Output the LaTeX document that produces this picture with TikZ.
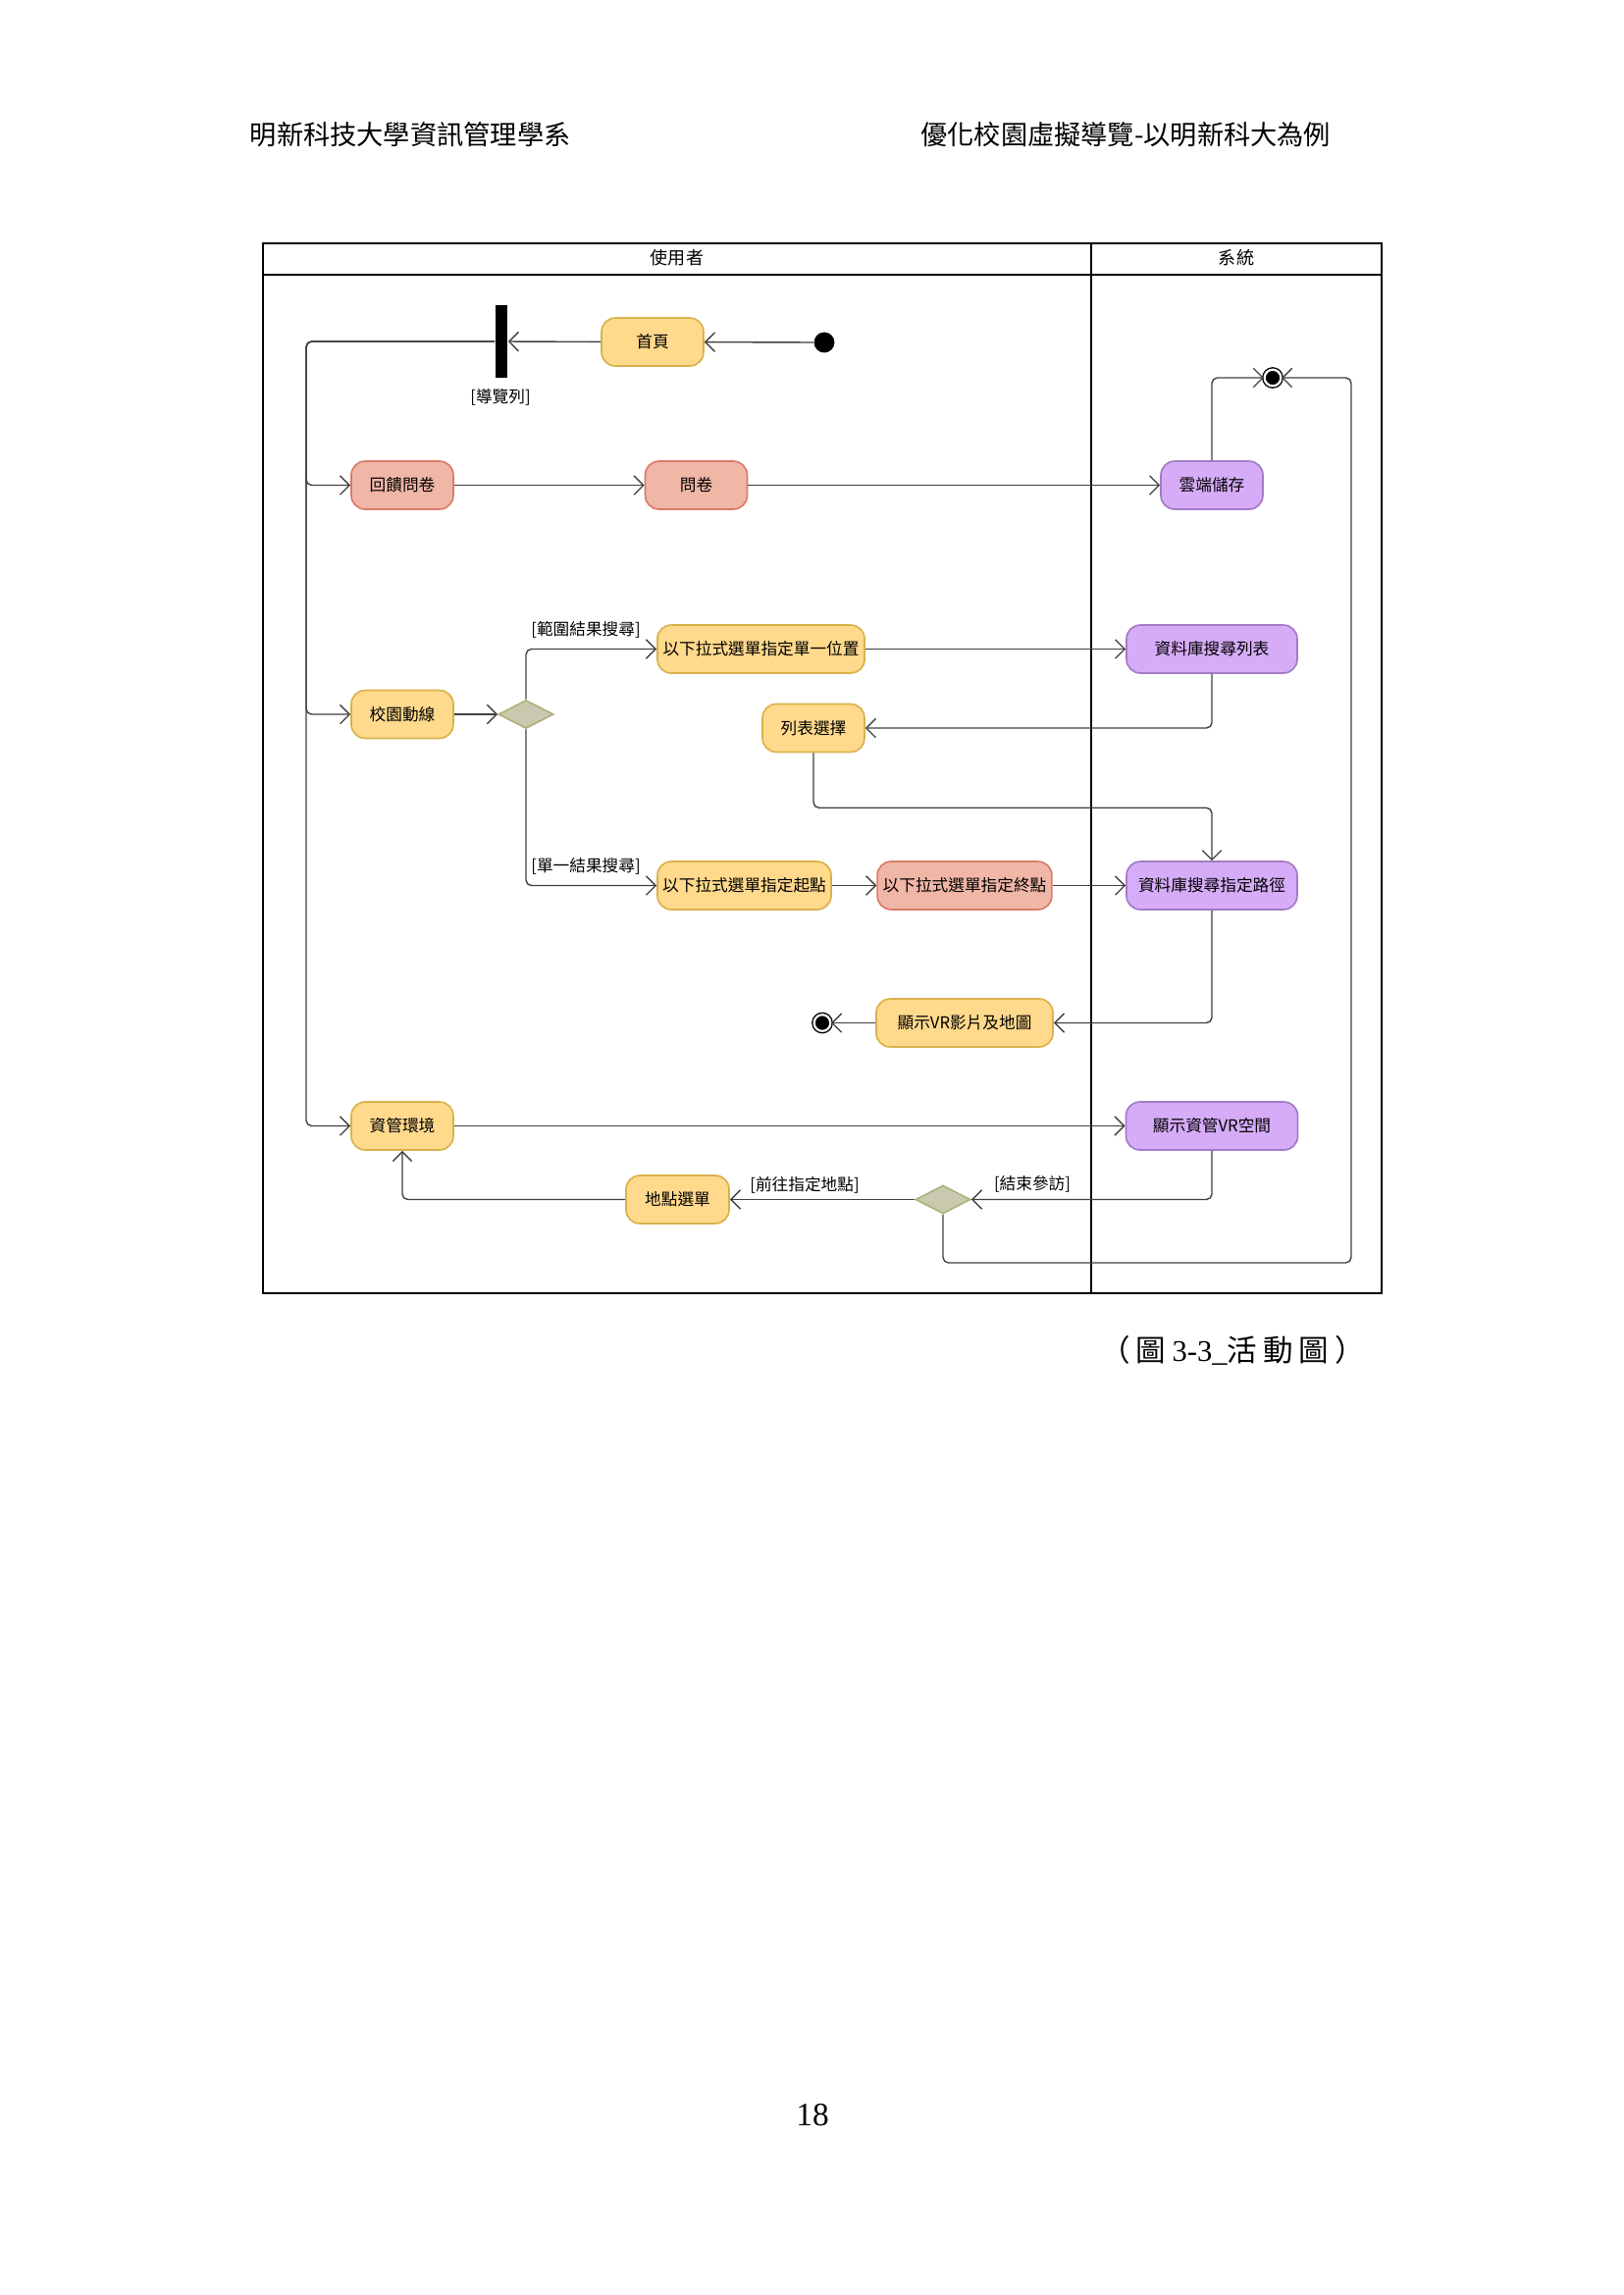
\documentclass[tikz,border=0pt]{standalone}
\usepackage{fontspec}
\setmainfont{Liberation Serif}
\newfontfamily\cjk{Noto Sans CJK TC}
\usetikzlibrary{arrows.meta,shapes.geometric}
\definecolor{user fill}{HTML}{FFD98C}
\definecolor{user edge}{HTML}{D9B24A}
\definecolor{red fill}{HTML}{F0B6A6}
\definecolor{red edge}{HTML}{DB7B68}
\definecolor{sys fill}{HTML}{D6ABF7}
\definecolor{sys edge}{HTML}{A27CC4}
\definecolor{choice fill}{HTML}{C9C9AF}
\definecolor{choice edge}{HTML}{B0B07E}
\colorlet{flow line}{black!75}
\newcommand\gap{\hspace{2.2pt}}
\tikzset{act/.style={draw, rounded corners=5pt, line width=0.6pt, minimum width=37.4pt,
        minimum height=17.6pt, inner sep=1pt, font=\cjk\fontsize{6}{7}\selectfont},
    useract/.style={act, fill=user fill, draw=user edge},
    redact/.style={act, fill=red fill, draw=red edge},
    sysact/.style={act, fill=sys fill, draw=sys edge},
    choice/.style={diamond, fill=choice fill, draw=choice edge, line width=0.6pt,
        minimum width=20.2pt, minimum height=10.4pt, inner sep=0pt},
    forkbar/.style={fill=black, minimum width=4.5pt, minimum height=26.6pt, inner sep=0pt},
    startdot/.style={circle, fill=black, minimum size=7.5pt, inner sep=0pt},
    enddot/.style={circle, fill=black, draw=black, double=white, double distance=0.8pt,
        line width=0.5pt, minimum size=6pt, inner sep=0pt},
    guard/.style={inner sep=0pt, font=\cjk\fontsize{6}{7}\selectfont},
    flow/.style={draw=flow line, line width=0.5pt, rounded corners=2pt,
        -{Straight Barb[length=3.5pt,width=7pt]}},
    lane/.style={draw=black, line width=0.8pt}}

\begin{document}
\begin{tikzpicture}[x=0.36pt,y=-0.36pt]
    \useasboundingbox (0,0) rectangle (1654,2339);
    % page header, caption and page number
    \node[anchor=west, font=\cjk\fontsize{9.8}{11}\selectfont] (lefthead) at (245,137)
      {明新科技大學資訊管理學系};
    \node[anchor=east, font=\cjk\fontsize{9.8}{11}\selectfont] (righthead) at (1366,137)
      {優化校園虛擬導覽-以明新科大為例};
    \node[anchor=east, font=\fontsize{11}{13}\selectfont] (caption) at (1401,1376)
      {{\cjk （\gap 圖}\gap 3-3\_{\cjk 活\gap 動\gap 圖\gap ）}};
    \node[font=\fontsize{12}{14}\selectfont] (pagenum) at (828,2156) {18};

    % swimlanes
    \draw[lane] (268,248) rectangle (1408,1318);
    \draw[lane] (268,280) -- (1408,280);
    \draw[lane] (1112,248) -- (1112,1318);
    \node[guard, font=\cjk\fontsize{6.5}{7}\selectfont] (userlane) at (690,263) {使用者};
    \node[guard, font=\cjk\fontsize{6.5}{7}\selectfont] (syslane) at (1260,263) {系統};

    % nodes
    \node[startdot] (start) at (840,349) {};
    \node[useract] (home) at (665,348.5) {首頁};
    \node[forkbar] (bar) at (511,348) {};
    \node[guard] (navlabel) at (510,405) {[導覽列]};
    \coordinate (trunk) at (312,348);

    \node[redact] (feedback) at (410,494.5) {回饋問卷};
    \node[redact] (survey) at (709.5,494.5) {問卷};
    \node[sysact] (cloud) at (1235,494.5) {雲端儲存};
    \node[enddot] (endtop) at (1297,385) {};

    \node[useract] (route) at (410,728) {校園動線};
    \node[choice] (routechoice) at (536,728) {};
    \node[useract, minimum width=76pt] (single) at (775.5,661.5) {以下拉式選單指定單一位置};
    \node[sysact, minimum width=62.6pt] (dblist) at (1235,661.5) {資料庫搜尋列表};
    \node[useract] (listpick) at (829,742) {列表選擇};
    \node[useract, minimum width=63.7pt] (origin) at (758.5,902.5) {以下拉式選單指定起點};
    \node[redact, minimum width=64pt] (dest) at (983,902.5) {以下拉式選單指定終點};
    \node[sysact, minimum width=62.6pt] (dbpath) at (1235,902.5) {資料庫搜尋指定路徑};
    \node[useract, minimum width=64.8pt] (showvr) at (983,1042.5) {顯示VR影片及地圖};
    \node[enddot] (endleft) at (838,1042.5) {};
    \node[guard] (rangelabel) at (597,642) {[範圍結果搜尋]};
    \node[guard] (singlelabel) at (597,883) {[單一結果搜尋]};

    \node[useract] (mis) at (410,1147.5) {資管環境};
    \node[sysact, minimum width=63pt] (misvr) at (1235,1147.5) {顯示資管VR空間};
    \node[choice] (leavechoice) at (961,1222.5) {};
    \node[useract, minimum width=37.8pt] (placemenu) at (690.5,1222.5) {地點選單};
    \node[guard] (leavelabel) at (1052,1207) {[結束參訪]};
    \node[guard] (golabel) at (820,1208) {[前往指定地點]};
    \coordinate (loopcorner) at (1377,1287);

    % connectors
    \draw[flow] (start) -- (home);
    \draw[flow] (home) -- (bar);
    \draw[flow] (bar.west) -- (trunk) |- (feedback.west);
    \draw[flow] (bar.west) -- (trunk) |- (route.west);
    \draw[flow] (bar.west) -- (trunk) |- (mis.west);
    \draw[flow] (feedback) -- (survey);
    \draw[flow] (survey) -- (cloud);
    \draw[flow] (cloud.north) |- (endtop.west);
    \draw[flow] (route) -- (routechoice);
    \draw[flow] (routechoice.north) |- (single.west);
    \draw[flow] (routechoice.south) |- (origin.west);
    \draw[flow] (single) -- (dblist);
    \draw[flow] (dblist.south) |- (listpick.east);
    \draw[flow] (listpick.south) -- ++(0,56) -| (dbpath.north);
    \draw[flow] (origin) -- (dest);
    \draw[flow] (dest) -- (dbpath);
    \draw[flow] (dbpath.south) |- (showvr.east);
    \draw[flow] (showvr) -- (endleft);
    \draw[flow] (mis) -- (misvr);
    \draw[flow] (misvr.south) |- (leavechoice.east);
    \draw[flow] (leavechoice) -- (placemenu);
    \draw[flow] (placemenu.west) -| (mis.south);
    \draw[flow] (leavechoice.south) |- (loopcorner) |- (endtop.east);
\end{tikzpicture}
\end{document}
